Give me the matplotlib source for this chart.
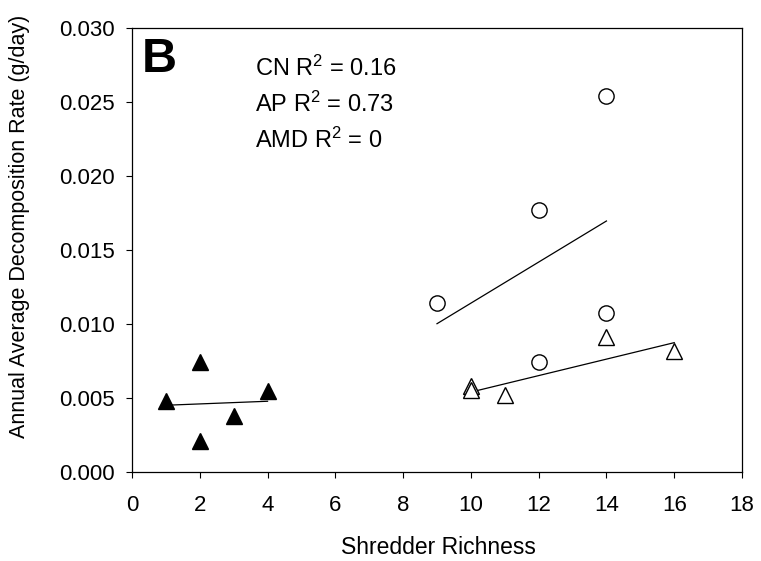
import matplotlib
matplotlib.use("Agg")
import matplotlib.pyplot as plt

plt.rcParams['font.family'] = ['Liberation Sans', 'DejaVu Sans']
plt.rcParams['mathtext.fontset'] = 'custom'
plt.rcParams['mathtext.rm'] = 'Liberation Sans'
plt.rcParams['mathtext.it'] = 'Liberation Sans'

# CN sites (filled triangles)
cn_x = [1, 2, 2, 3, 4]
cn_y = [0.00482, 0.00745, 0.00209, 0.00378, 0.00547]
cn_fit_x = [1, 4]
cn_fit_y = [0.00451, 0.00478]

# AP sites (open circles)
ap_x = [9, 12, 12, 14, 14]
ap_y = [0.0114, 0.0177, 0.00741, 0.02541, 0.01076]
ap_fit_x = [9, 14]
ap_fit_y = [0.01002, 0.01696]

# AMD sites (open triangles)
amd_x = [10, 10, 11, 14, 16]
amd_y = [0.00583, 0.00554, 0.00517, 0.00914, 0.00818]
amd_fit_x = [10, 16]
amd_fit_y = [0.0054, 0.00874]

x_ticks = [0, 2, 4, 6, 8, 10, 12, 14, 16, 18]
y_ticks = [0.000, 0.005, 0.010, 0.015, 0.020, 0.025, 0.030]

stats = ['CN R$^2$ = 0.16', 'AP R$^2$ = 0.73', 'AMD R$^2$ = 0']

fig = plt.figure(figsize=(7.61, 5.61), dpi=100)
ax = fig.add_axes([132/761, 89/561, 610/761, 444/561])

# regression lines under the markers
ax.plot(cn_fit_x, cn_fit_y, color='black', lw=0.9, zorder=2)
ax.plot(ap_fit_x, ap_fit_y, color='black', lw=0.9, zorder=2)
ax.plot(amd_fit_x, amd_fit_y, color='black', lw=0.9, zorder=2)

ax.plot(cn_x, cn_y, ls='none', marker='^', ms=11, mfc='black', mec='black', mew=1, zorder=3)
ax.plot(ap_x, ap_y, ls='none', marker='o', ms=11, mfc='white', mec='black', mew=1, zorder=3)
ax.plot(amd_x, amd_y, ls='none', marker='^', ms=11, mfc='white', mec='black', mew=1, zorder=3)

ax.set_xlim(0, 18)
ax.set_ylim(0, 0.030)
ax.set_xticks(x_ticks)
ax.set_yticks(y_ticks)
ax.set_xticklabels([str(t) for t in x_ticks])
ax.set_yticklabels([f'{t:.3f}' for t in y_ticks])
ax.tick_params(direction='out', length=4.5, width=0.8, labelsize=16, color='black')
ax.tick_params(axis='y', pad=8)
ax.tick_params(axis='x', pad=12)
for sp in ax.spines.values():
    sp.set_linewidth(0.9)
    sp.set_color('black')

ax.text(0.016, 0.9016, 'B', transform=ax.transAxes, fontsize=35, fontweight='bold', va='baseline')
for i, s in enumerate(stats):
    ax.text(0.2016, [0.892, 0.8115, 0.7304][i], s, transform=ax.transAxes, fontsize=17, va='baseline')

fig.text(20/761, 1 - 226/561, 'Annual Average Decomposition Rate (g/day)', rotation=90,
         fontsize=15.5, ha='center', va='center')
fig.text(438/761, 1 - 548/561, 'Shredder Richness', fontsize=16.5, ha='center', va='center')

fig.savefig('out.png', dpi=100)
